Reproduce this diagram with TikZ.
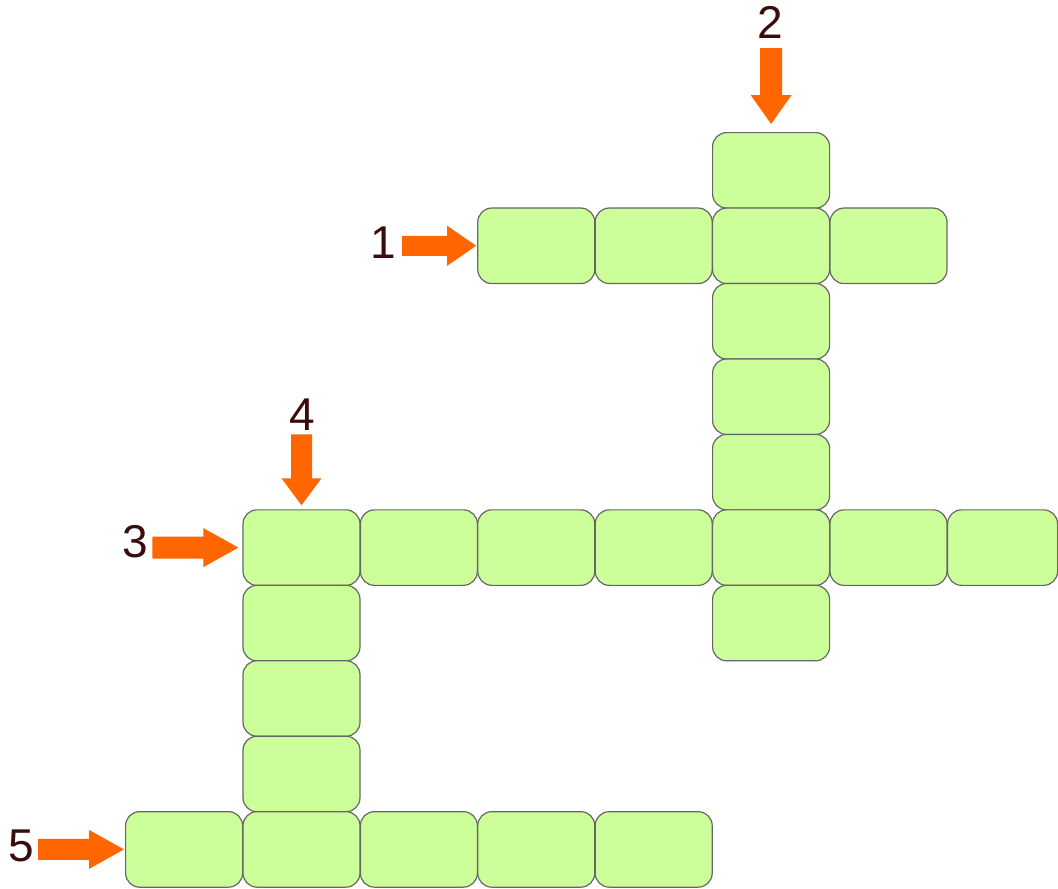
\documentclass[tikz,border=0pt]{standalone}
\usepackage{fontspec}
\setmainfont{Liberation Sans}
\usetikzlibrary{calc}
\definecolor{cellfill}{HTML}{CCFF99}
\definecolor{cellline}{HTML}{666666}
\definecolor{arrowc}{HTML}{FF6600}
\definecolor{labelc}{HTML}{3A0C0C}
\tikzset{
  cell/.style={draw=cellline, fill=cellfill, line width=1.2pt, rounded corners=14pt,
    minimum width=117pt, minimum height=75.5pt, inner sep=0pt, anchor=north west},
  blockarrow/.style={fill=arrowc},
  numlabel/.style={text=labelc, font=\fontsize{46}{46}\selectfont, inner sep=0pt}
}
\begin{document}
\begin{tikzpicture}[x=1pt,y=-1pt]
\useasboundingbox (0,0) rectangle (1058,889);
% cells
\foreach \r/\c in {0/5, 1/3, 1/4, 1/5, 1/6, 2/5, 3/5, 4/5,
                   5/1, 5/2, 5/3, 5/4, 5/5, 5/6, 6/1, 6/5, 7/1, 8/1,
                   9/0, 9/1, 9/2, 9/3, 9/4}
  \node[cell] (c\r-\c) at ({125+117.4*\c},{132+75.45*\r}) {};
\node[cell, minimum width=110pt] (c5-7) at (947,{132+75.45*5}) {};
% arrow tips
\coordinate (t1) at ($(c1-3.west)+(-1,0)$);
\coordinate (t2) at ($(c0-5.north)+(0,-8)$);
\coordinate (t3) at ($(c5-1.west)+(-4,0)$);
\coordinate (t4) at ($(c5-1.north)+(0,-4)$);
\coordinate (t5) at ($(c9-0.west)+(-1,0)$);
% right-pointing arrows
\fill[blockarrow] (t1) -- ++(-29,-20) -- ++(0,10) -- ++(-45,0) -- ++(0,20) -- ++(45,0) -- ++(0,10) -- cycle;
\fill[blockarrow] (t3) -- ++(-35,-19.5) -- ++(0,8.5) -- ++(-51,0) -- ++(0,22) -- ++(51,0) -- ++(0,8.5) -- cycle;
\fill[blockarrow] (t5) -- ++(-35,-19.5) -- ++(0,9) -- ++(-51,0) -- ++(0,21) -- ++(51,0) -- ++(0,9) -- cycle;
% down-pointing arrows
\fill[blockarrow] (t2) -- ++(-20.5,-29) -- ++(9.5,0) -- ++(0,-47) -- ++(22,0) -- ++(0,47) -- ++(9.5,0) -- cycle;
\fill[blockarrow] (t4) -- ++(-20,-27) -- ++(9.5,0) -- ++(0,-44) -- ++(21,0) -- ++(0,44) -- ++(9.5,0) -- cycle;
% labels
\node[numlabel] (l1) at (383,243) {1};
\node[numlabel] (l2) at (770,22) {2};
\node[numlabel] (l3) at (135,542) {3};
\node[numlabel] (l4) at (302,415) {4};
\node[numlabel] (l5) at (21,846) {5};
\end{tikzpicture}
\end{document}
